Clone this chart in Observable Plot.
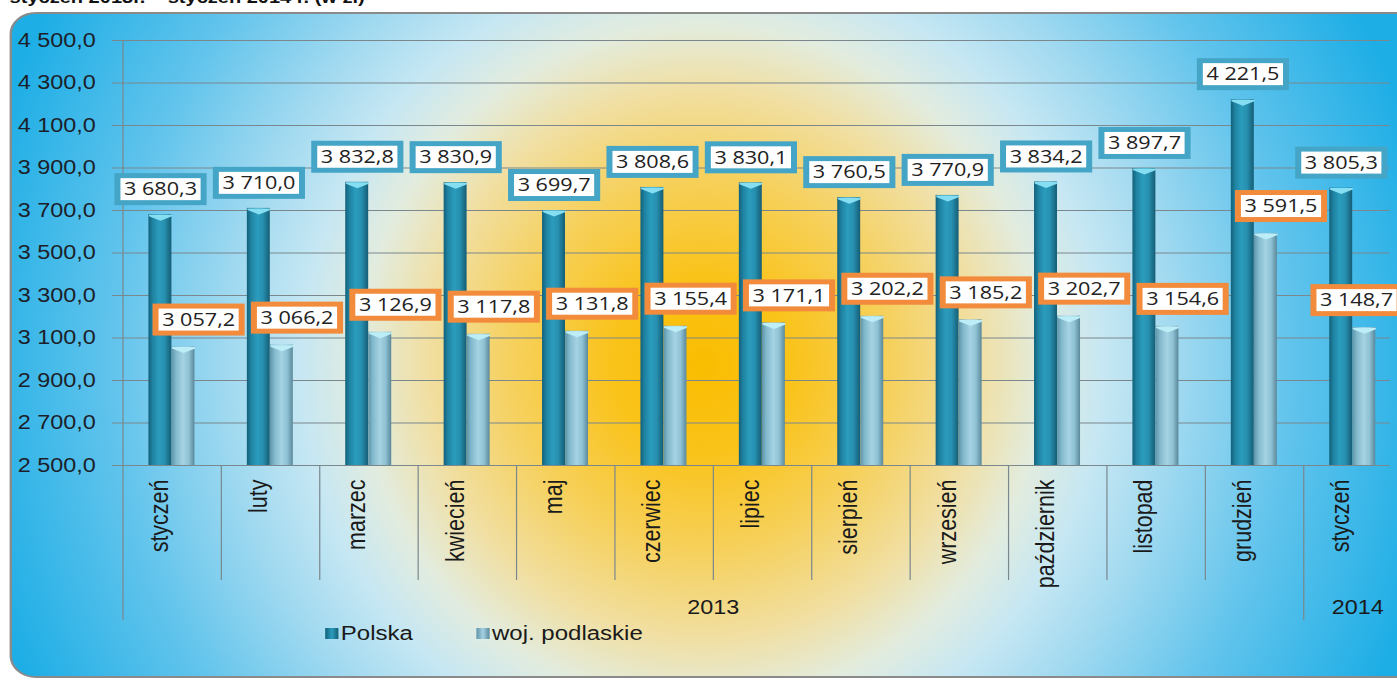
<!DOCTYPE html>
<html><head><meta charset="utf-8">
<script src="https://cdn.jsdelivr.net/npm/d3@7"></script>
<script src="https://cdn.jsdelivr.net/npm/@observablehq/plot@0.6"></script>
<style>
html,body{margin:0;padding:0;background:#fff;overflow:hidden;width:1397px;height:682px}
#wrap{position:absolute;left:0;top:0;width:1164px;height:682px;transform:scaleX(1.2);transform-origin:0 0}
#frame{position:absolute;left:8.3px;top:12px;width:1200px;height:662px;border:2px solid #8a8a8a;border-radius:22px;
background:radial-gradient(ellipse 620px 740px at 575px 350px,#f9bd00 0%,#fac31a 12%,#f6d05a 25%,#f1dfa2 37%,#e2ecdf 46%,#c6e7f3 54%,#a0d9f0 64%,#62c4ec 79%,#1eaee6 100%)}
#title{position:absolute;left:8px;top:-12.5px;font:bold 16.7px "Liberation Sans",Arial,sans-serif;line-height:20px;white-space:nowrap;color:#111}
#chart{position:absolute;left:0;top:0}
.lg{position:absolute;top:621px;font:20px "Liberation Sans",Arial,sans-serif;color:#1a1a1a;line-height:24px;white-space:nowrap;display:flex;align-items:center}
.sw{display:inline-block;width:11px;height:11px;margin-right:2px}
</style></head>
<body>
<div id="wrap">
  <div id="title">styczeń 2013r. – styczeń 2014 r. (w zł)</div>
  <div id="frame"></div>
  <div id="chart"></div>
  <div class="lg" id="lg1" style="left:271px"><span class="sw" style="background:linear-gradient(90deg,#12607a,#2b9cbd,#155d74)"></span>Polska</div>
  <div class="lg" id="lg2" style="left:397px"><span class="sw" style="background:linear-gradient(90deg,#5e93a8,#a5d3e3,#5a889b)"></span>woj. podlaskie</div>
</div>
<script>
// ---- data ----
const months = ["styczeń","luty","marzec","kwiecień","maj","czerwiec","lipiec","sierpień","wrzesień","październik","listopad","grudzień","styczeń"];
const years = [2013,2013,2013,2013,2013,2013,2013,2013,2013,2013,2013,2013,2014];
const polska = [3680.3,3710.0,3832.8,3830.9,3699.7,3808.6,3830.1,3760.5,3770.9,3834.2,3897.7,4221.5,3805.3];
const podlaskie = [3057.2,3066.2,3126.9,3117.8,3131.8,3155.4,3171.1,3202.2,3185.2,3202.7,3154.6,3591.5,3148.7];
const yTicks = [2500,2700,2900,3100,3300,3500,3700,3900,4100,4300,4500];

// ---- build ----
const loc = d3.formatLocale({decimal: ",", thousands: "\u00a0", grouping: [3], currency: ["", ""]});
const fmt = loc.format(",.1f");
const rows = months.map((m, i) => ({i, month: m, year: years[i], pl: polska[i], pd: podlaskie[i]}));

// year groups
const groups = [];
rows.forEach(r => {
  const g = groups.find(g => g.year === r.year);
  if (g) g.last = r.i; else groups.push({year: r.year, first: r.i, last: r.i});
});
const bw = 82.08;
groups.forEach(g => {
  const c = (g.first + g.last + 1) / 2;
  g.x = Math.floor(c);
  g.onEdge = Number.isInteger(c);
});
const groupStarts = new Set(groups.map(g => g.first));

const yLong = 2500 - (620 - 465) * 2000 / 425;
const yShort = 2500 - (580 - 465) * 2000 / 425;
const font = '"Liberation Sans", Arial, sans-serif';
const grid = "#7a878d";

const capSymbol = {draw(ctx) {
  ctx.moveTo(-9.6, 0); ctx.lineTo(9.6, 0); ctx.lineTo(9.6, 1.5);
  ctx.lineTo(0, 6); ctx.lineTo(-9.6, 1.5); ctx.closePath();
}};

const plot = Plot.plot({
  width: 1164, height: 682,
  marginLeft: 101.7, marginRight: 6, marginTop: 40, marginBottom: 217,
  style: {background: "transparent", overflow: "visible"},
  x: {type: "band", domain: d3.range(13), range: [101.7, 101.7 + 13 * bw], padding: 0, axis: null},
  y: {domain: [2500, 4500], range: [465, 40], axis: null},
  marks: [
    Plot.ruleY(yTicks, {y: d => d, stroke: grid, strokeWidth: 1, insetLeft: -8.3}),
    Plot.ruleX(rows.filter(r => !groupStarts.has(r.i)), {x: "i", dx: -bw / 2, y1: 2500, y2: yShort, stroke: grid}),
    Plot.ruleX(rows.filter(r => groupStarts.has(r.i) && r.i > 0), {x: "i", dx: -bw / 2, y1: 2500, y2: yLong, stroke: grid}),
    Plot.ruleX([0], {x: d => d, dx: -bw / 2, y1: yLong, y2: 4500, stroke: grid}),
    Plot.barY(rows, {x: "i", y1: 2500, y2: "pl", fill: "url(#gPL)", insetLeft: 21.7, insetRight: bw - 21.7 - 19.2}),
    Plot.barY(rows, {x: "i", y1: 2500, y2: "pd", fill: "url(#gPD)", insetLeft: 40.9, insetRight: bw - 40.9 - 19.2}),
    Plot.dot(rows, {x: "i", y: "pl", dx: -9.74, symbol: capSymbol, r: 5, fill: "#86def3", stroke: "none"}),
    Plot.dot(rows, {x: "i", y: "pd", dx: 9.46, symbol: capSymbol, r: 5, fill: "#bdeef8", stroke: "none"}),
    Plot.text(yTicks, {y: d => d, frameAnchor: "left", dx: -22.5, textAnchor: "end", text: d => fmt(d), fontSize: 19.5, fontFamily: font, fill: "#1c1f2a"}),
    Plot.text(rows, {x: "i", y: 2500, dx: -10, dy: 14, text: "month", rotate: -90, textAnchor: "end", fontSize: 21.5, fontFamily: font, fill: "#1a1a1a"}),
    Plot.text(groups.filter(g => g.onEdge), {x: "x", dx: -bw / 2, y: 2500, dy: 142, text: d => String(d.year), fontSize: 19.5, fontFamily: font, fill: "#1a1a1a"}),
    Plot.text(groups.filter(g => !g.onEdge), {x: "x", dx: 4, y: 2500, dy: 142, text: d => String(d.year), fontSize: 19.5, fontFamily: font, fill: "#1a1a1a"}),
    Plot.text(rows, {x: "i", y: "pl", dx: -9.74, dy: -25, text: d => fmt(d.pl), fontSize: 18, fontFamily: '"Open Sans", sans-serif', fill: "#222", ariaLabel: () => "pl-labels"}),
    Plot.text(rows, {x: "i", y: "pd", dx: 22, dy: -27, text: d => fmt(d.pd), fontSize: 18, fontFamily: '"Open Sans", sans-serif', fill: "#222", ariaLabel: () => "pd-labels"})
  ]
});
document.getElementById("chart").append(plot);

// gradients
const defs = d3.select(plot).insert("defs", ":first-child");
function grad(id, stops) {
  const g = defs.append("linearGradient").attr("id", id).attr("x1", 0).attr("x2", 1).attr("y1", 0).attr("y2", 0);
  stops.forEach(([o, c]) => g.append("stop").attr("offset", o).attr("stop-color", c));
}
grad("gPL", [[0, "#12607a"], [0.18, "#1f82a1"], [0.45, "#2b9cbd"], [0.7, "#2790b0"], [1, "#155d74"]]);
grad("gPD", [[0, "#5e93a8"], [0.2, "#82b9cc"], [0.5, "#a5d3e3"], [0.75, "#8fc2d4"], [1, "#5a889b"]]);

// label boxes (kept inside the visible page width)
const SX = 1.2, pageRight = 1393;
for (const [lab, col] of [["pl-labels", "#45a5c6"], ["pd-labels", "#f28c3c"]]) {
  const texts = Array.from(plot.querySelectorAll(`text[aria-label="${lab}"]`));
  if (!texts.length) continue;
  const g = texts[0].parentNode;
  const rects = texts.map(t => {
    const screenRight = t.getBoundingClientRect().right;
    const shift = Math.min(0, (pageRight - screenRight) / SX);
    const b = t.getBBox();
    const w = b.width + 11, h = 27;
    const cx = b.x + b.width / 2, cy = b.y + b.height / 2 + 0.5;
    const r = document.createElementNS("http://www.w3.org/2000/svg", "rect");
    r.setAttribute("x", cx - w / 2); r.setAttribute("y", cy - h / 2);
    r.setAttribute("width", w); r.setAttribute("height", h);
    r.setAttribute("fill", "#fff"); r.setAttribute("stroke", col); r.setAttribute("stroke-width", 5);
    const tr = t.getAttribute("transform") || "";
    const full = (shift ? `translate(${shift},0) ` : "") + tr;
    if (full.trim()) { r.setAttribute("transform", full); t.setAttribute("transform", full); }
    return r;
  });
  rects.reverse().forEach(r => g.insertBefore(r, g.firstChild));
}
</script>
</body></html>
